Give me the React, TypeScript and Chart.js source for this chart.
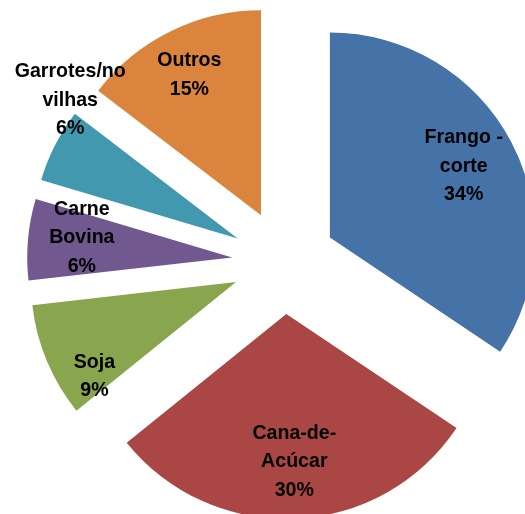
import React, { useEffect, useRef } from "react";
import { Chart, registerables } from "chart.js";

Chart.register(...registerables);

// ---- data ----
const categories = ["Frango - corte", "Cana-de-Acúcar", "Soja", "Carne Bovina", "Garrotes/novilhas", "Outros"];
const values = [34.4, 29.8, 9.0, 6.4, 5.8, 14.6];
const labelLines = [["Frango -", "corte"], ["Cana-de-", "Acúcar"], ["Soja"], ["Carne", "Bovina"], ["Garrotes/no", "vilhas"], ["Outros"]];

// ---- styles ----
const colors = ["#4572A7", "#AA4643", "#89A54E", "#71588F", "#4198AF", "#DB843D"];
const EXPLODE = 52;
const RADIUS = 205;
// label placement relative to each slice: radius fraction and angle tweak (deg)
const labelPlace = [
  { r: 0.74, da: 0 },
  { r: 0.72, da: -0.6 },
  { r: 0.83, da: -11 },
  { r: 0.74, da: 2.6 },
  { r: 1.06, da: 12.6 },
  { r: 0.77, da: -0.7 },
];
const FONT = "bold 19.6px 'Liberation Sans', Arial, sans-serif";
const TEXT_STRETCH_Y = 1.07;
const LINE_H = 28.5;

const explodePlugin = {
  id: "explode",
  afterDatasetUpdate(chart: any, args: any) {
    const meta = args.meta;
    meta.data.forEach((arc: any) => {
      const half = (arc.startAngle + arc.endAngle) / 2;
      arc.x = arc.x + Math.cos(half) * EXPLODE;
      arc.y = arc.y + Math.sin(half) * EXPLODE;
    });
  },
};

const labelPlugin = {
  id: "sliceLabels",
  afterDatasetsDraw(chart: any) {
    const ctx = chart.ctx;
    const meta = chart.getDatasetMeta(0);
    const data = chart.data.datasets[0].data as number[];
    const total = data.reduce((a, b) => a + b, 0);
    ctx.save();
    ctx.font = FONT;
    ctx.fillStyle = "#000000";
    ctx.textAlign = "center";
    ctx.textBaseline = "middle";
    meta.data.forEach((arc: any, i: number) => {
      const p = labelPlace[i];
      const a = (arc.startAngle + arc.endAngle) / 2 + (p.da * Math.PI) / 180;
      const cx = arc.x + Math.cos(a) * arc.outerRadius * p.r;
      const cy = arc.y + Math.sin(a) * arc.outerRadius * p.r;
      const lines = [...labelLines[i], Math.round((data[i] / total) * 100) + "%"];
      const top = cy - ((lines.length - 1) * LINE_H) / 2;
      lines.forEach((t, k) => {
        ctx.save();
        ctx.translate(cx, top + k * LINE_H);
        ctx.scale(1, TEXT_STRETCH_Y);
        ctx.fillText(t, 0, 0);
        ctx.restore();
      });
    });
    ctx.restore();
  },
};

export default function App() {
  const ref = useRef<HTMLCanvasElement>(null);
  useEffect(() => {
    const chart = new Chart(ref.current!, {
      type: "pie",
      data: {
        labels: categories,
        datasets: [
          {
            data: values,
            backgroundColor: colors,
            borderWidth: 0,
          },
        ],
      },
      options: {
        responsive: false,
        animation: false,
        radius: RADIUS,
        layout: { padding: { left: 43, right: 0, top: 10, bottom: 0 } },
        plugins: { legend: { display: false }, tooltip: { enabled: false } },
      } as any,
      plugins: [explodePlugin, labelPlugin],
    });
    return () => chart.destroy();
  }, []);
  return (
    <div style={{ position: "absolute", left: 0, top: 0, width: 525, height: 514, background: "#fff" }}>
      <canvas ref={ref} width={525} height={514} />
    </div>
  );
}
